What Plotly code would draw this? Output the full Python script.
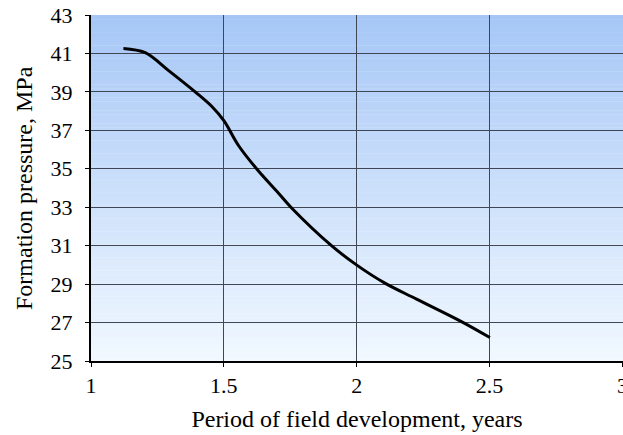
import plotly.graph_objects as go

# Data
years = [1.122, 1.204, 1.291, 1.392, 1.454, 1.500, 1.555, 1.623,
         1.705, 1.755, 1.905, 1.999, 2.106, 2.225, 2.394, 2.501]
pressure = [41.26, 41.04, 40.12, 39.00, 38.25, 37.50, 36.21, 35.00,
            33.74, 32.96, 31.00, 30.00, 29.05, 28.22, 27.05, 26.22]
x_ticks = [1, 1.5, 2, 2.5, 3]
y_ticks = [25, 27, 29, 31, 33, 35, 37, 39, 41, 43]
x_title = "Period of field development, years"
y_title = "Formation pressure, MPa"

FONT = "Liberation Serif, Times New Roman, serif"

fig = go.Figure()
fig.add_trace(go.Scatter(x=years, y=pressure, mode="lines",
                         line=dict(color="black", width=3, shape="spline", smoothing=1.0),
                         showlegend=False, hoverinfo="skip", cliponaxis=False))

# vertical gradient background (paper-referenced strips)
top = (166, 199, 246)
bot = (241, 248, 255)
n = 80
shapes = []
for i in range(n):
    t = i / (n - 1)
    c = tuple(round(top[k] + (bot[k] - top[k]) * t) for k in range(3))
    y1 = 1 - i / n
    y0 = 1 - (i + 1) / n
    shapes.append(dict(type="rect", xref="paper", yref="paper", x0=0, x1=1,
                       y0=y0 - 0.001, y1=y1, fillcolor="rgb(%d,%d,%d)" % c,
                       line=dict(width=0), layer="below"))

L, W = 91, 532
fig.update_layout(
    width=623, height=435,
    margin=dict(l=L, r=0, t=15, b=74, autoexpand=False),
    paper_bgcolor="white",
    plot_bgcolor="rgba(0,0,0,0)",
    shapes=shapes,
    font=dict(family=FONT, size=22, color="black"),
    xaxis=dict(range=[1, 3.002], tickvals=x_ticks, ticktext=[str(v) for v in x_ticks],
               ticklabeloverflow="allow", automargin=False,
               showgrid=True, gridcolor="#3f4656", gridwidth=1,
               showline=True, linecolor="black", linewidth=2,
               ticks="outside", ticklen=4, tickcolor="black", tickwidth=1,
               zeroline=False, layer="below traces",
               title=dict(text=x_title, standoff=13,
                          font=dict(family=FONT, size=24))),
    yaxis=dict(range=[25, 43], tickvals=y_ticks, automargin=False,
               showgrid=True, gridcolor="#3f4656", gridwidth=1,
               showline=True, linecolor="black", linewidth=2,
               ticks="outside", ticklen=4, tickcolor="black", tickwidth=1,
               ticklabelstandoff=8,
               zeroline=False, layer="below traces"),
    annotations=[dict(text=y_title, textangle=-90, xref="paper", yref="paper",
                      x=(24 - L) / W, y=0.5, xanchor="center", yanchor="middle",
                      showarrow=False, font=dict(family=FONT, size=24))],
)

fig.write_html("out.html", config={"displayModeBar": False},
               post_script="document.body.style.margin='0';document.body.style.overflow='hidden';")
